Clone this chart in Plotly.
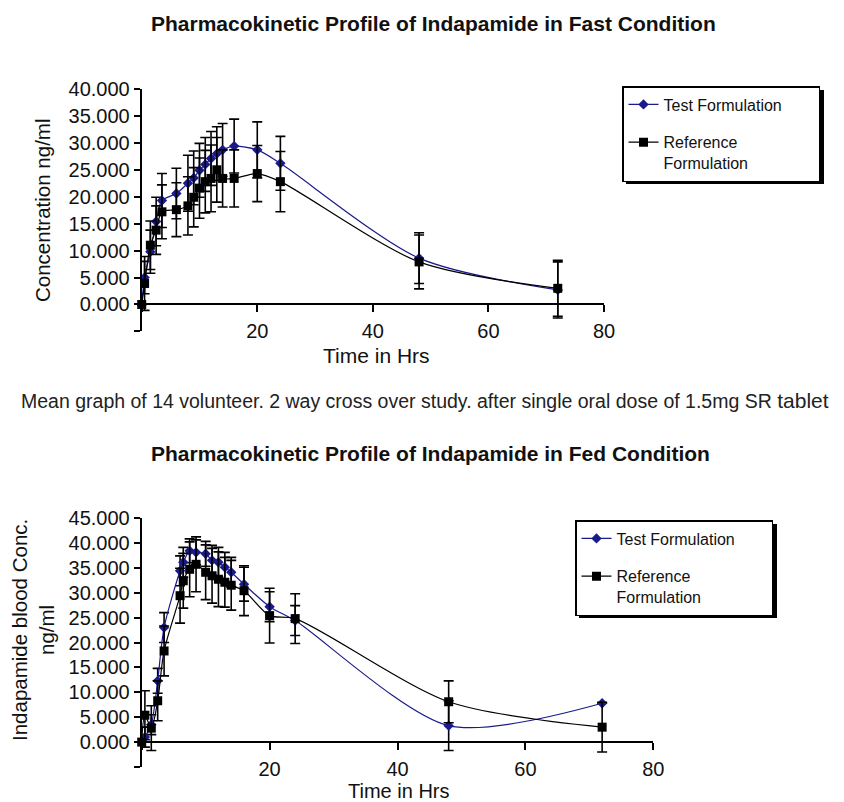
import plotly.graph_objects as go

# ---------------- data ----------------
# Fast condition
time_fast = [0, 0.5, 1.5, 2.5, 3.5, 6, 8, 9, 10, 11, 12, 13, 14, 16, 20, 24, 48, 72]
test_fast = [0, 5.0, 9.8, 15.4, 19.3, 20.6, 22.5, 23.5, 24.9, 26.0, 27.1, 28.0, 28.7, 29.4, 28.7, 26.2, 8.6, 2.7]
test_fast_err = [0, 3.0, 4.0, 4.5, 5.0, 4.7, 5.2, 5.0, 5.0, 5.0, 5.0, 5.0, 4.9, 5.0, 5.2, 5.0, 4.7, 5.2]
ref_fast = [0, 3.9, 11.0, 13.8, 17.2, 17.6, 18.3, 19.9, 21.6, 22.8, 23.4, 25.0, 23.4, 23.4, 24.3, 22.8, 7.9, 3.0]
ref_fast_err = [0, 5.0, 4.5, 4.5, 5.0, 5.0, 5.4, 5.5, 5.6, 5.8, 6.2, 6.0, 5.3, 5.3, 5.2, 5.6, 5.0, 5.2]

# Fed condition
time_fed = [0, 0.5, 1.5, 2.5, 3.5, 6, 6.5, 7.5, 8.5, 10, 11, 12, 13, 14, 16, 20, 24, 48, 72]
test_fed = [0, 1.0, 3.5, 12.3, 23.0, 34.4, 36.1, 38.4, 38.1, 37.8, 36.5, 36.1, 35.1, 34.1, 31.7, 27.2, 24.4, 3.3, 7.8]
test_fed_err = [0, 2.0, 2.0, 2.5, 3.0, 3.0, 3.0, 2.4, 2.5, 2.5, 3.0, 3.0, 3.0, 3.0, 3.4, 3.0, 3.0, 5.0, 0]
ref_fed = [0, 5.4, 2.8, 8.3, 18.3, 29.4, 32.4, 34.7, 35.7, 34.1, 33.4, 32.7, 32.1, 31.5, 30.4, 25.4, 24.8, 8.1, 3.0]
ref_fed_err = [0, 4.9, 4.5, 4.0, 5.0, 5.5, 5.5, 5.5, 5.5, 5.5, 5.5, 5.5, 5.0, 5.0, 5.0, 5.5, 5.0, 4.2, 5.0]

x_ticks = [0, 20, 40, 60, 80]
x_ticktext = ["", "20", "40", "60", "80"]
y_ticks_fast = [-5, 0, 5, 10, 15, 20, 25, 30, 35, 40]
y_ticks_fed = [-5, 0, 5, 10, 15, 20, 25, 30, 35, 40, 45]

titles = ["Pharmacokinetic Profile of Indapamide in Fast Condition",
          "Pharmacokinetic Profile of Indapamide in Fed Condition"]
series_names = ["Test Formulation", "Reference<br>Formulation"]
caption = "Mean graph of 14 volunteer. 2 way cross over study. after single oral dose of 1.5mg SR "

# ---------------- style ----------------
OFF = 8                      # page body margin
W, H = 844 - OFF, 802 - OFF
FONT = "Liberation Sans, Arial, sans-serif"
BLUE = "#1a1a8c"
BLACK = "#000000"

def px_x(p):
    return (p - OFF) / W

def px_y(p):
    return 1 - (p - OFF) / H

fig = go.Figure()

def add_series(x, y, err, name, color, symbol, size, xa, ya, legend, group):
    fig.add_trace(go.Scatter(
        x=x, y=y, name=name, mode="lines+markers",
        line=dict(color=color, width=1.2, shape="spline", smoothing=0.8),
        marker=dict(symbol=symbol, size=size, color=color),
        error_y=dict(type="data", array=err, visible=True, color="black",
                     thickness=1.6, width=5),
        xaxis=xa, yaxis=ya, legend=legend, legendgroup=group,
        cliponaxis=False,
    ))

pad = "\u00a0" * 7
add_series(time_fast, test_fast, test_fast_err, series_names[0] + pad, BLUE, "diamond", 8, "x", "y", "legend", "a")
add_series(time_fast, ref_fast, ref_fast_err, series_names[1], BLACK, "square", 9, "x", "y", "legend", "b")
add_series(time_fed, test_fed, test_fed_err, series_names[0] + pad, BLUE, "diamond", 8, "x2", "y2", "legend2", "c")
add_series(time_fed, ref_fed, ref_fed_err, series_names[1], BLACK, "square", 9, "x2", "y2", "legend2", "d")

# axis geometry (pixels in the final picture)
top_x0, top_x1 = 141.7, 604.0
top_ybot, top_ytop = 331.4, 89.0      # y = -5 and y = 40
fed_x0, fed_x1 = 141.7, 653.3
fed_ybot, fed_ytop = 767.0, 518.0     # y = -5 and y = 45

top_ydom = [px_y(top_ybot), px_y(top_ytop)]
fed_ydom = [px_y(fed_ybot), px_y(fed_ytop)]
top_zero = top_ydom[0] + (5 / 45) * (top_ydom[1] - top_ydom[0])
fed_zero = fed_ydom[0] + (5 / 50) * (fed_ydom[1] - fed_ydom[0])

tickfont = dict(family=FONT, size=20, color="#111")

def xaxis_cfg(dom, pos):
    return dict(domain=dom, range=[0, 80], anchor="free", position=pos,
                showline=True, linecolor="black", linewidth=2,
                ticks="outside", ticklen=7, tickwidth=1.5, tickcolor="black",
                tickvals=x_ticks, ticktext=x_ticktext, ticklabelstandoff=2,
                tickfont=tickfont, showgrid=False, zeroline=False)

def yaxis_cfg(dom, rng, ticks, anchor):
    return dict(domain=dom, range=rng, anchor=anchor,
                showline=True, linecolor="black", linewidth=2,
                ticks="outside", ticklen=6, tickwidth=1.5, tickcolor="black",
                tickvals=ticks, ticktext=["" if t < 0 else f"{t:.3f}" for t in ticks],
                tickfont=tickfont, showgrid=False, zeroline=False)

legfont = dict(family=FONT, size=16, color="#111")
fig.update_layout(
    width=W, height=H,
    margin=dict(l=0, r=0, t=0, b=0, autoexpand=False),
    paper_bgcolor="white", plot_bgcolor="white",
    showlegend=True,
    xaxis=xaxis_cfg([px_x(top_x0), px_x(top_x1)], top_zero),
    yaxis=yaxis_cfg(top_ydom, [-5, 40], y_ticks_fast, "x"),
    xaxis2=xaxis_cfg([px_x(fed_x0), px_x(fed_x1)], fed_zero),
    yaxis2=yaxis_cfg(fed_ydom, [-5, 45], y_ticks_fed, "x2"),
    legend=dict(x=px_x(622), y=px_y(86), xanchor="left", yanchor="top",
                bgcolor="white", bordercolor="black", borderwidth=1.5,
                font=legfont, valign="top",
                traceorder="grouped", tracegroupgap=14),
    legend2=dict(x=px_x(575), y=px_y(520), xanchor="left", yanchor="top",
                 bgcolor="white", bordercolor="black", borderwidth=1.5,
                 font=legfont, valign="top",
                 traceorder="grouped", tracegroupgap=14),
)

# legend drop shadows (drawn under the legend boxes)
for (lx, ly) in [(622, 86), (575, 520)]:
    fig.add_shape(type="rect", xref="paper", yref="paper", layer="above",
                  x0=px_x(lx + 4), x1=px_x(lx + 202), y0=px_y(ly + 98), y1=px_y(ly + 4),
                  fillcolor="black", line=dict(width=0))

ann = [
    dict(text=f"<b>{titles[0]}</b>", x=px_x(433), y=px_y(23), font=dict(size=21)),
    dict(text=f"<b>{titles[1]}</b>", x=px_x(430), y=px_y(453), font=dict(size=21)),
    dict(text="Concentration ng/ml", x=px_x(42), y=px_y(211), textangle=-90, font=dict(size=20.5)),
    dict(text="Indapamide blood Conc.<br>ng/ml", x=px_x(33), y=px_y(630), textangle=-90, font=dict(size=20.5)),
    dict(text="Time in Hrs", x=px_x(376), y=px_y(355), font=dict(size=21)),
    dict(text="Time in Hrs", x=px_x(398), y=px_y(791), font=dict(size=20)),
    dict(text=caption + "<span style='font-size:21px'>tablet</span>", x=px_x(425), y=px_y(400),
         font=dict(size=19.5, color="#222")),
]
for a in ann:
    f = dict(family=FONT, color="#111")
    f.update(a.pop("font"))
    fig.add_annotation(xref="paper", yref="paper", showarrow=False,
                       xanchor="center", yanchor="middle", font=f, **a)

fig.write_html("out.html")
